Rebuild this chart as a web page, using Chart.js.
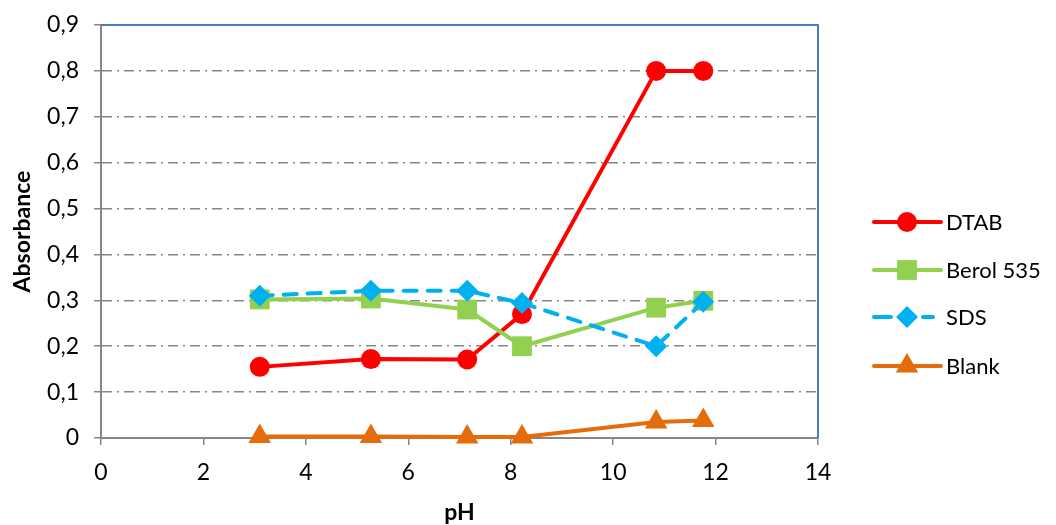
<!DOCTYPE html>
<html>
<head>
<meta charset="utf-8">
<script src="https://cdn.jsdelivr.net/npm/chart.js@4.4.0/dist/chart.umd.min.js"></script>
<style>
  html, body { margin: 0; padding: 0; background: #fff; }
  #wrap { width: 1056px; height: 525px; }
</style>
</head>
<body>
<div id="wrap"><canvas id="phChart"></canvas></div>
<script>
// values
const phValues = [3.1, 5.27, 7.15, 8.22, 10.84, 11.76];
const dtab = [0.155, 0.172, 0.171, 0.27, 0.80, 0.80];
const berol535 = [0.302, 0.304, 0.28, 0.20, 0.284, 0.299];
const sds = [0.31, 0.321, 0.321, 0.294, 0.20, 0.297];
const blank = [0.003, 0.003, 0.002, 0.002, 0.035, 0.038];
const seriesNames = ['DTAB', 'Berol 535', 'SDS', 'Blank'];
const xTickValues = [0, 2, 4, 6, 8, 10, 12, 14];
const yTickValues = [0, 0.1, 0.2, 0.3, 0.4, 0.5, 0.6, 0.7, 0.8, 0.9];

const toPoints = ys => phValues.map((x, i) => ({ x: x, y: ys[i] }));
const fmt = v => (Math.abs(v) < 1e-9 ? '0' : v.toFixed(1).replace('.', ','));

const fontFamily = 'Lato, "Open Sans", sans-serif';
Chart.defaults.font.family = fontFamily;
Chart.defaults.font.size = 23;
Chart.defaults.color = '#000';

const axisGray = '#868686';

// top/right blue frame + Excel-style legend (line + marker)
const frameAndLegend = {
    id: 'frameAndLegend',
    beforeDatasetsDraw(chart) {
        const { ctx, chartArea: a } = chart;
        ctx.save();
        ctx.strokeStyle = '#4a7ebb';
        ctx.lineWidth = 2;
        ctx.beginPath();
        ctx.moveTo(a.left, a.top);
        ctx.lineTo(a.right, a.top);
        ctx.lineTo(a.right, a.bottom);
        ctx.stroke();
        ctx.restore();
    },
    afterDraw(chart) {
        const ctx = chart.ctx;
        const rows = [222, 270, 317, 366];
        chart.data.datasets.forEach((ds, i) => {
            const y = rows[i];
            ctx.save();
            ctx.strokeStyle = ds.borderColor;
            ctx.lineWidth = 4;
            ctx.lineCap = 'round';
            ctx.beginPath();
            if (ds.borderDash && ds.borderDash.length) {
                ctx.moveTo(874, y); ctx.lineTo(891, y);
                ctx.moveTo(923, y); ctx.lineTo(933, y);
            } else {
                ctx.moveTo(874, y); ctx.lineTo(941, y);
            }
            ctx.stroke();
            ctx.fillStyle = ds.pointBackgroundColor;
            Chart.helpers.drawPoint(ctx, {
                pointStyle: ds.pointStyle,
                radius: ds.pointRadius,
                rotation: 0,
                borderWidth: 0
            }, 907, y);
            ctx.fillStyle = '#000';
            ctx.font = '22px ' + fontFamily;
            ctx.textBaseline = 'middle';
            ctx.textAlign = 'left';
            ctx.fillText(ds.label, 946, y + 1);
            ctx.restore();
        });
    }
};

const makeSeries = (name, ys, color, style, radius, order, dash) => ({
    label: name,
    data: toPoints(ys),
    borderColor: color,
    backgroundColor: color,
    pointBackgroundColor: color,
    pointBorderColor: color,
    pointBorderWidth: 0,
    borderWidth: 4,
    borderDash: dash || [],
    borderCapStyle: dash ? 'round' : 'butt',
    pointStyle: style,
    pointRadius: radius,
    pointHoverRadius: radius,
    tension: 0,
    clip: false,
    order: order
});

const config = {
    type: 'line',
    data: {
        datasets: [
            makeSeries(seriesNames[0], dtab, '#ff0000', 'circle', 10, 4),
            makeSeries(seriesNames[1], berol535, '#92d050', 'rect', 14, 3),
            makeSeries(seriesNames[2], sds, '#00b0f0', 'rectRot', 11, 2, [13, 11]),
            makeSeries(seriesNames[3], blank, '#e46c0a', 'triangle', 13, 1)
        ]
    },
    options: {
        responsive: true,
        maintainAspectRatio: false,
        animation: false,
        layout: { padding: { left: 0, top: 25, right: 238, bottom: 0 } },
        plugins: {
            legend: { display: false },
            tooltip: { enabled: false }
        },
        scales: {
            x: {
                type: 'linear',
                min: 0,
                max: 14,
                afterFit: s => { s.height = 87; },
                afterBuildTicks: s => { s.ticks = xTickValues.map(v => ({ value: v })); },
                ticks: { padding: 14, callback: v => String(v) },
                grid: { drawOnChartArea: false, drawTicks: true, tickLength: 7, color: axisGray, lineWidth: 1.5 },
                border: { color: axisGray, width: 2 },
                title: { display: true, text: 'pH', font: { weight: 'bold', size: 23, lineHeight: 1 }, padding: { top: 0, bottom: 1 } }
            },
            y: {
                min: 0,
                max: 0.9,
                afterFit: s => { s.width = 101; s.paddingTop = 10; s.paddingBottom = 10; },
                afterBuildTicks: s => { s.ticks = yTickValues.map(v => ({ value: v })); },
                ticks: { padding: 15, callback: v => fmt(v) },
                grid: {
                    color: ctx => (ctx.tick && (ctx.tick.value === 0 || ctx.tick.value === 0.9) ? 'rgba(0,0,0,0)' : axisGray),
                    tickColor: axisGray,
                    lineWidth: 1.5,
                    tickBorderDash: [],
                    tickLength: 7
                },
                border: { color: axisGray, width: 2, dash: [10, 5, 2, 5] },
                title: { display: true, text: 'Absorbance', font: { weight: 'bold', size: 23, lineHeight: 1 }, padding: { top: 11, bottom: 0 } }
            }
        }
    },
    plugins: [frameAndLegend]
};

const phChart = new Chart(document.getElementById('phChart'), config);
</script>
</body>
</html>
